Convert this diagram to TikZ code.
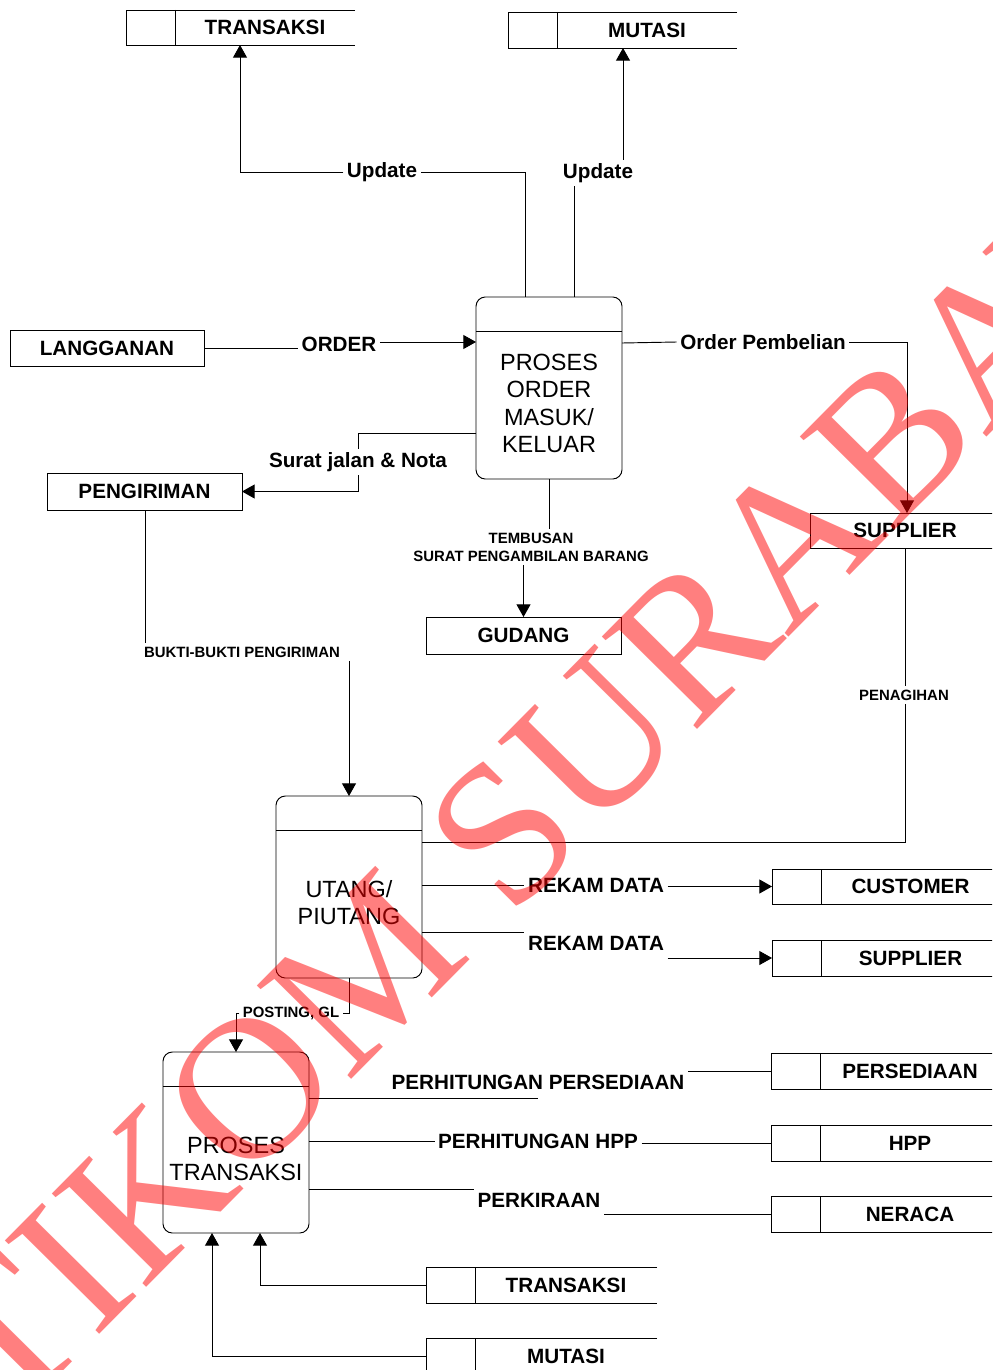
\documentclass[tikz,border=0pt]{standalone}
\usepackage{fontspec}
\setmainfont{Liberation Sans}
\newfontfamily\wmfont{Liberation Serif}
\usetikzlibrary{arrows.meta}
\newcommand\mainlab{\fontsize{15.5}{18}\selectfont\bfseries}
\newcommand\smalllab{\fontsize{11.2}{13.5}\selectfont\bfseries}
\newcommand\proclab{\fontsize{17.6}{20.6}\selectfont}
\tikzset{
  ln/.style={line width=0.7pt, draw=black},
  flow/.style={ln},
  arr/.style={ln, -{Triangle[length=9.5pt,width=10.5pt]}},
  storebody/.style={inner sep=0pt, outer sep=0pt},
  storetext/.style={inner sep=0pt, font=\mainlab},
  ent/.style={ln, draw, inner sep=0pt, outer sep=0pt, font=\mainlab},
  proc/.style={ln, draw, rounded corners=7pt, inner sep=0pt, outer sep=0pt},
  lab/.style={inner sep=2.5pt, font=\mainlab},
  slab/.style={inner sep=2.5pt, font=\smalllab, align=center},
  ptext/.style={inner sep=0pt, font=\proclab, align=center},
  wm/.style={font=\wmfont\fontsize{152}{152}\selectfont, text=red, text opacity=0.5, rotate=45.3, inner sep=0pt}
}
% name, xleft, xdivider, xright, ytop, ybottom, text
\newcommand\mystore[7]{%
  \node[storebody, minimum width={(#4-#2)*0.75pt}, minimum height={(#6-#5)*0.75pt}] (#1) at ({(#2+#4)/2},{(#5+#6)/2}) {};
  \draw[ln] (#1.north east) -- (#1.north west) -- (#1.south west) -- (#1.south east);
  \draw[ln] (#1.north west -| #3,0) -- (#1.south west -| #3,0);
  \node[storetext] (#1-t) at ({(#3+#4)/2},{(#5+#6)/2}) {#7};
}
% name, xleft, xright, ytop, ybottom, text
\newcommand\myent[6]{%
  \node[ent, minimum width={(#3-#2)*0.75pt}, minimum height={(#5-#4)*0.75pt}] (#1) at ({(#2+#3)/2},{(#4+#5)/2}) {#6};
}
% name, xleft, xright, ytop, ybottom, ydivider, ytext, text
\newcommand\myproc[8]{%
  \node[proc, minimum width={(#3-#2)*0.75pt}, minimum height={(#5-#4)*0.75pt}] (#1) at ({(#2+#3)/2},{(#4+#5)/2}) {};
  \draw[ln] (#1.west |- 0,#6) -- (#1.east |- 0,#6);
  \node[ptext] (#1-t) at ({(#2+#3)/2},#7) {#8};
}
\begin{document}
\begin{tikzpicture}[x=0.75pt,y=-0.75pt]
\useasboundingbox (0,0) rectangle (992,1370);
\clip (0,0) rectangle (992,1370);
\fill[white] (0,0) rectangle (992,1370);

% data stores
\mystore{trA}{126}{175}{355}{10}{45}{TRANSAKSI}
\mystore{muA}{508}{557}{737}{12}{48}{MUTASI}
\mystore{cust}{772}{821}{1000}{869}{904}{CUSTOMER}
\mystore{supB}{772}{821}{1000}{940}{976}{SUPPLIER}
\mystore{pers}{771}{820}{1000}{1053}{1089}{PERSEDIAAN}
\mystore{hpp}{771}{820}{1000}{1125}{1161}{HPP}
\mystore{ner}{771}{820}{1000}{1196}{1232}{NERACA}
\mystore{trB}{426}{475}{657}{1267}{1303}{TRANSAKSI}
\mystore{muB}{426}{475}{657}{1338}{1374}{MUTASI}

% external entities
\myent{lang}{10}{204}{330}{366}{LANGGANAN}
\myent{peng}{47}{242}{473}{510}{PENGIRIMAN}
\myent{gud}{426}{621}{617}{654}{GUDANG}
\myent{supA}{810}{1000}{513}{548}{SUPPLIER}

% processes
\myproc{pA}{476}{622}{297}{479}{331}{403.5}{PROSES\\ORDER\\MASUK/\\KELUAR}
\myproc{pB}{276}{422}{796}{978}{830}{902.5}{UTANG/\\PIUTANG}
\myproc{pC}{163}{309}{1052}{1233}{1086}{1159}{PROSES\\TRANSAKSI}

% flow labels
\node[lab] (u1) at (382,172) {Update};
\node[lab] (u2) at (598,173) {Update};
\node[lab] (ord) at (339,344) {ORDER};
\node[lab] (sj) at (358,462) {Surat jalan \& Nota};
\node[slab] (bk) at (242,652) {BUKTI-BUKTI PENGIRIMAN};
\node[lab] (op) at (763,342) {Order Pembelian};
\node[slab] (tem) at (531,547) {TEMBUSAN\\SURAT PENGAMBILAN BARANG};
\node[slab] (pen) at (904,695) {PENAGIHAN};
\node[lab] (rk1) at (596,885) {REKAM DATA};
\node[lab] (rk2) at (596,943) {REKAM DATA};
\node[slab] (post) at (291,1013) {POSTING, GL};
\node[lab] (pp) at (538,1082) {PERHITUNGAN PERSEDIAAN};
\node[lab] (ph) at (538,1141) {PERHITUNGAN HPP};
\node[lab] (pk) at (539,1200) {PERKIRAAN};

% connectors
\draw[flow] (pA.north -| 525,0) |- (u1.east);
\draw[arr] (u1.west) -| (trA.south -| 240,0);
\draw[flow] (pA.north -| 574,0) -- (u2.south -| 574,0);
\draw[arr] (u2.north -| 623,0) -- (muA.south -| 623,0);
\draw[flow] (lang.east) -- (ord.west |- lang.east);
\draw[arr] (ord.east |- 0,342) -- (pA.west |- 0,342);
\draw[flow] (pA.west |- 0,433) -| (sj.north);
\draw[arr] (sj.south) |- (peng.east);
\draw[flow] (peng.south -| 145,0) -- (bk.north -| 145,0);
\draw[arr] (bk.south -| pB.north) -- (pB.north);
\draw[flow] (pA.east |- 0,343) -- (op.west);
\draw[arr] (op.east) -| (supA.north -| 907,0);
\draw[flow] (pA.south) -- (tem.north -| pA.south);
\draw[arr] (tem.south -| gud.north) -- (gud.north);
\draw[flow] (supA.south) -- (pen.north -| supA.south);
\draw[flow] (pen.south -| supA.south) |- (pB.east |- 0,842);
\draw[flow] (pB.east |- rk1.west) -- (rk1.west);
\draw[arr] (rk1.east |- cust.west) -- (cust.west);
\draw[flow] (pB.east |- 0,932) -- (rk2.west |- 0,932);
\draw[arr] (rk2.east |- supB.west) -- (supB.west);
\draw[flow] (pB.south) |- (post.east);
\draw[arr] (post.west) -| (pC.north);
\draw[flow] (pC.east |- 0,1098) -- (pp.south |- 0,1098);
\draw[flow] (pp.east |- pers.west) -- (pers.west);
\draw[flow] (pC.east |- ph.west) -- (ph.west);
\draw[flow] (ph.east |- hpp.west) -- (hpp.west);
\draw[flow] (pC.east |- 0,1189) -- (pk.west |- 0,1189);
\draw[flow] (pk.east |- ner.west) -- (ner.west);
\draw[arr] (trB.west) -| (pC.south -| 260,0);
\draw[arr] (muB.west) -| (pC.south -| 212,0);

% watermark
\node[wm] (wmark) at (550,785) {STIKOM SURABAYA};
\end{tikzpicture}
\end{document}
